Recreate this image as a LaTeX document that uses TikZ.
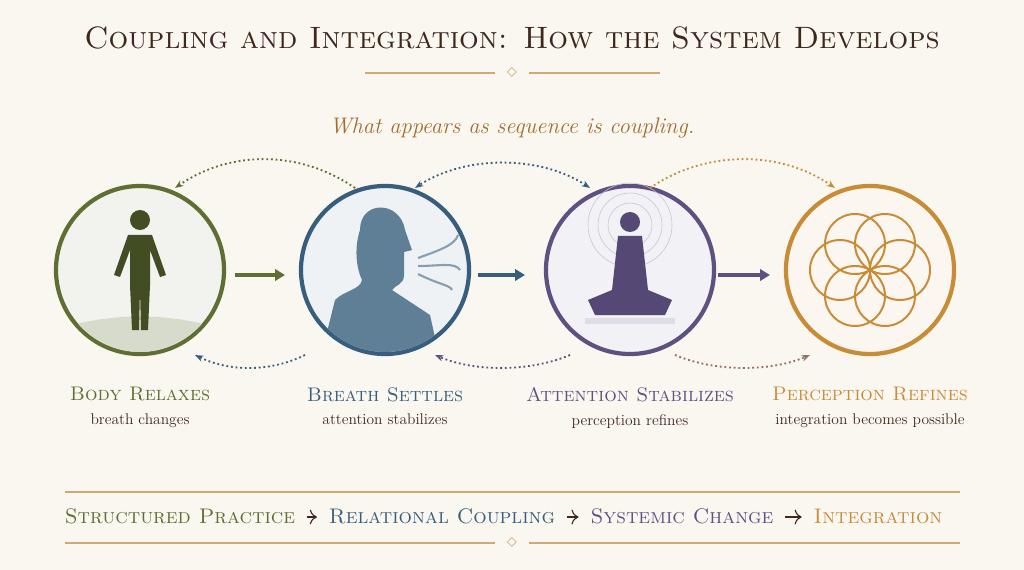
\documentclass[tikz,border=0pt]{standalone}
\usepackage{tikz}
\usetikzlibrary{positioning,arrows.meta,calc}
\definecolor{paper}{RGB}{250,247,240}
\definecolor{ink}{RGB}{62,40,30}
\definecolor{cgreen}{RGB}{95,110,50}
\definecolor{cblue}{RGB}{55,95,125}
\definecolor{cpurple}{RGB}{95,80,130}
\definecolor{cgold}{RGB}{200,140,55}
\definecolor{rule}{RGB}{205,170,120}
\tikzset{
  ring/.style={circle,draw=#1,line width=3pt,minimum size=4.2cm,fill=#1!8},
  flow/.style={-{Triangle[length=7pt,width=8pt]},line width=2.5pt,draw=#1},
  loop/.style={-{Stealth[length=6pt]},dotted,line width=1.3pt,draw=#1},
  head/.style={font=\fontsize{14}{16}\selectfont\scshape,text=#1,text depth=0.25ex},
  tail/.style={font=\fontsize{15}{17}\selectfont\scshape,text=#1,text depth=0.25ex},
  sub/.style={font=\fontsize{11}{13}\selectfont,text=ink},
}
\begin{document}
\begin{tikzpicture}[x=0.025cm,y=-0.025cm]
\fill[paper] (0,0) rectangle (1024,570);
\useasboundingbox (0,0) rectangle (1024,570);
% title
\node (title) at (512,38) {\fontsize{22}{26}\selectfont\scshape\color{ink}Coupling and Integration: How the System Develops};
\draw[rule,line width=0.8pt] (365,73) -- (495,73) (529,73) -- (660,73);
\node[rule,font=\Large] (orn1) at (512,73) {$\diamond$};
\node (motto) at (512,128) {\fontsize{16}{19}\selectfont\itshape\color{cgold!70!ink}What appears as sequence is coupling.};
% circles
\node[ring=cgreen] (body) at (140,270) {};
\node[ring=cblue] (breath) at (385,270) {};
\node[ring=cpurple] (attn) at (630,270) {};
\node[ring=cgold] (perc) at (870,270) {};
% body figure
\begin{scope}
\clip (140,270) circle (82);
\fill[cgreen!25] (55,330) .. controls (110,312) and (170,312) .. (225,330) -- (225,360) -- (55,360) -- cycle;
\end{scope}
\fill[cgreen!70!black] (140,220) circle (10);
\fill[cgreen!70!black] (128,235) -- (152,235) -- (166,275) -- (160,277) -- (150,250) -- (150,285) -- (148,330) -- (141,330) -- (140,290)
  -- (139,330) -- (132,330) -- (130,285) -- (130,250) -- (120,277) -- (114,275) -- cycle;
% breath figure
\begin{scope}
\clip (385,270) circle (82);
\fill[cblue!80] (360,230) .. controls (360,200) and (400,200) .. (405,230) -- (412,250) -- (404,252) -- (404,275) .. controls (404,285) and (395,285) .. (392,290)
  -- (430,315) -- (440,360) -- (320,360) -- (335,300) .. controls (345,290) and (360,290) .. (362,280) .. controls (355,265) and (355,245) .. cycle;
\end{scope}
\draw[cblue!60,line width=1.5pt] (418,258) .. controls (440,250) and (455,245) .. (458,235) (418,266) .. controls (440,266) and (455,262) .. (460,270)
  (418,274) .. controls (440,285) and (450,285) .. (452,290);
% meditating figure
\foreach \r in {22,32,42} \draw[cpurple!35] (630,225) circle (\r);
\fill[cpurple!90!black] (630,222) circle (10);
\fill[cpurple!90!black] (618,236) -- (642,236) -- (648,290) -- (672,300) -- (665,315) -- (595,315) -- (588,300) -- (612,290) -- cycle;
\fill[cpurple!20] (585,318) rectangle (675,324);
% flower
\begin{scope}
\clip (870,270) circle (62);
\foreach \a in {0,60,...,300} \draw[cgold,line width=1.4pt] ($(870,270)+(\a:30)$) circle (30);
\end{scope}
% straight arrows
\draw[flow=cgreen] (235,275) -- (285,275);
\draw[flow=cblue] (478,275) -- (525,275);
\draw[flow=cpurple] (718,275) -- (770,275);
% loops
\draw[loop=cgreen] (355,188) .. controls (300,150) and (230,150) .. (175,188);
\draw[loop=cblue,{Stealth[length=6pt]}-{Stealth[length=6pt]}] (590,188) .. controls (540,155) and (465,155) .. (415,188);
\draw[loop=cgold] (650,188) .. controls (705,150) and (780,150) .. (835,188);
\draw[loop=cblue] (305,355) .. controls (270,372) and (230,372) .. (195,355);
\draw[loop=cpurple] (570,355) .. controls (530,372) and (475,372) .. (435,355);
\draw[loop=cpurple!50!cgold] (675,355) .. controls (715,372) and (770,372) .. (810,355);
% labels
\node[head=cgreen] (l1) at (140,395) {Body Relaxes};
\node[sub,below=1pt of l1] (s1) {breath changes};
\node[head=cblue] (l2) at (385,395) {Breath Settles};
\node[sub,below=1pt of l2] (s2) {attention stabilizes};
\node[head=cpurple] (l3) at (630,395) {Attention Stabilizes};
\node[sub,below=1pt of l3] (s3) {perception refines};
\node[head=cgold] (l4) at (870,395) {Perception Refines};
\node[sub,below=1pt of l4] (s4) {integration becomes possible};
% bottom
\draw[rule,line width=0.8pt] (65,492) -- (960,492);
\draw[rule,line width=0.8pt] (65,543) -- (495,543) (529,543) -- (960,543);
\node[rule,font=\Large] (orn2) at (512,543) {$\diamond$};
\node[tail=cgreen] (b1) at (180,517) {Structured Practice};
\node[tail=cblue] (b2) at (442,517) {Relational Coupling};
\node[tail=cpurple] (b3) at (682,517) {Systemic Change};
\node[tail=cgold] (b4) at (878,517) {Integration};
\draw[-{To[length=5pt]},ink,thick,shorten <=5pt,shorten >=5pt] (b1) -- (b2);
\draw[-{To[length=5pt]},ink,thick,shorten <=5pt,shorten >=5pt] (b2) -- (b3);
\draw[-{To[length=5pt]},ink,thick,shorten <=5pt,shorten >=5pt] (b3) -- (b4);
\end{tikzpicture}
\end{document}
